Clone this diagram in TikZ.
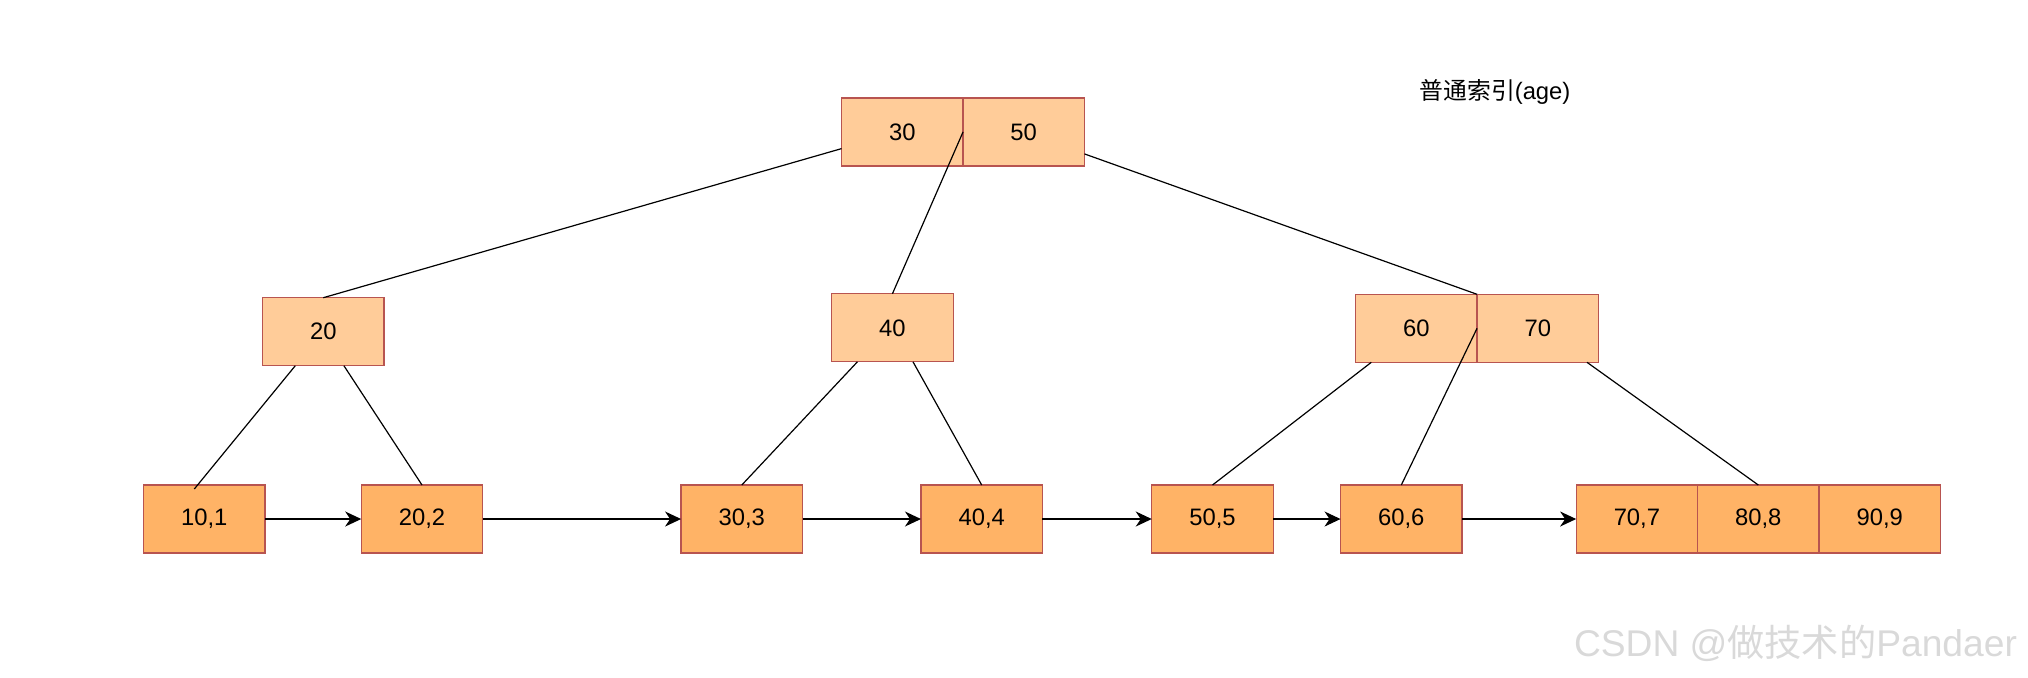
\documentclass[tikz,border=0pt]{standalone}
\usepackage{fontspec}
\setmainfont{Liberation Sans}
\newfontfamily\cjk{Noto Sans CJK SC}
\usetikzlibrary{arrows.meta}
\definecolor{upfill}{HTML}{FFCC99}
\definecolor{leaffill}{HTML}{FFB366}
\definecolor{edge}{HTML}{B85450}
\begin{document}
\begin{tikzpicture}[x=0.5pt,y=-0.5pt,
  key/.style={draw=edge,line width=0.6pt,minimum width=60.75pt,minimum height=34pt,inner sep=0pt,outer sep=0pt,font=\fontsize{11.9}{14}\selectfont},
  upkey/.style={key,fill=upfill},
  leafkey/.style={key,fill=leaffill},
  link/.style={line width=0.6pt,black},
  nextarrow/.style={line width=0.6pt,black,-{Stealth[length=8pt,width=7.5pt,inset=2.5pt]}}]
\useasboundingbox (0,0) rectangle (2028,677);
% root
\node[upkey] (r30) at (902.3,131.9) {30};
\node[upkey] (r50) at (1023.7,131.9) {50};
% level 2
\node[upkey] (n20) at (323.3,331.7) {20};
\node[upkey] (n40) at (892.4,327.8) {40};
\node[upkey] (n60) at (1416.3,328.3) {60};
\node[upkey] (n70) at (1537.8,328.3) {70};
% leaves
\node[leafkey] (l10) at (204.3,519) {10,1};
\node[leafkey] (l20) at (422,519) {20,2};
\node[leafkey] (l30) at (741.8,519) {30,3};
\node[leafkey] (l40) at (981.7,519) {40,4};
\node[leafkey] (l50) at (1212.5,519) {50,5};
\node[leafkey] (l60) at (1401.3,519) {60,6};
\node[leafkey] (l70) at (1636.9,519) {70,7};
\node[leafkey] (l80) at (1758.3,519) {80,8};
\node[leafkey] (l90) at (1879.7,519) {90,9};
% title
\node[font=\fontsize{11.9}{14}\selectfont] (title) at (1495,91.8) {{\cjk 普通索引}(age)};
% watermark
\node[font=\fontsize{18.6}{21}\selectfont,text=black!15,anchor=east] (wm) at (2024,643) {CSDN @{\cjk 做技术的}Pandaer};
% tree links
\draw[link] ([yshift=-8.35pt]r30.west) -- (n20.north);
\draw[link] (r30.east) -- (n40.north);
\draw[link] ([yshift=-11pt]r50.east) -- (n60.north east);
\draw[link] ([xshift=-14pt]n20.south) -- ([xshift=-5pt,yshift=-2pt]l10.north);
\draw[link] ([xshift=10.3pt]n20.south) -- (l20.north);
\draw[link] ([xshift=-17.5pt]n40.south) -- (l30.north);
\draw[link] ([xshift=10.3pt]n40.south) -- (l40.north);
\draw[link] ([xshift=-22.5pt]n60.south) -- (l50.north);
\draw[link] (n60.east) -- (l60.north);
\draw[link] ([xshift=24.6pt]n70.south) -- (l80.north);
% leaf chain
\draw[nextarrow] (l10.east) -- (l20.west);
\draw[nextarrow] (l20.east) -- (l30.west);
\draw[nextarrow] (l30.east) -- (l40.west);
\draw[nextarrow] (l40.east) -- (l50.west);
\draw[nextarrow] (l50.east) -- (l60.west);
\draw[nextarrow] (l60.east) -- (l70.west);
\end{tikzpicture}
\end{document}
